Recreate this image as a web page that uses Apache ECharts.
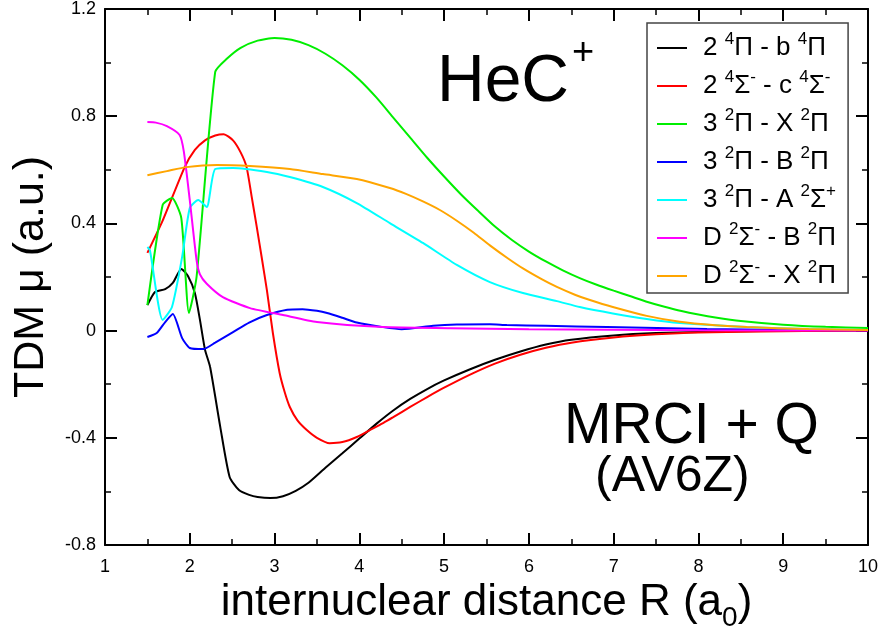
<!DOCTYPE html>
<html>
<head>
<meta charset="utf-8">
<script src="https://cdn.jsdelivr.net/npm/echarts@6/dist/echarts.min.js"></script>
<style>
  html, body { margin: 0; padding: 0; background: #fff; }
  #tdm { width: 881px; height: 627px; }
</style>
</head>
<body>
<div id="tdm"></div>
<script>
// R grid (a0) and TDM values (a.u.), one pair per curve
const rBlack = [1.5, 1.59, 1.71, 1.8, 1.9, 1.98, 2.06, 2.12, 2.18, 2.24, 2.36, 2.47, 2.58, 2.7, 2.8, 2.95, 3.1, 3.25, 3.4, 3.6, 3.8, 4.0, 4.2, 4.4, 4.6, 4.8, 5.0, 5.3, 5.6, 5.9, 6.2, 6.5, 7.0, 7.5, 8.0, 9.0, 10];
const tdmBlack = [0.095, 0.144, 0.155, 0.178, 0.23, 0.203, 0.14, 0.04, -0.072, -0.136, -0.36, -0.546, -0.595, -0.613, -0.621, -0.625, -0.618, -0.598, -0.568, -0.512, -0.458, -0.403, -0.348, -0.298, -0.255, -0.218, -0.186, -0.145, -0.109, -0.078, -0.052, -0.034, -0.018, -0.009, -0.005, -0.001, 0];

const rRed = [1.5, 1.68, 1.94, 2.06, 2.18, 2.3, 2.4, 2.51, 2.6, 2.67, 2.73, 2.79, 2.85, 2.91, 2.98, 3.06, 3.12, 3.18, 3.27, 3.38, 3.5, 3.65, 3.8, 3.97, 4.12, 4.28, 4.4, 4.6, 4.8, 5.0, 5.3, 5.6, 5.9, 6.2, 6.5, 7.0, 7.5, 8.0, 9.0, 10];
const tdmRed = [0.29, 0.41, 0.61, 0.674, 0.71, 0.728, 0.733, 0.71, 0.665, 0.61, 0.5, 0.387, 0.27, 0.15, -0.009, -0.158, -0.23, -0.285, -0.335, -0.371, -0.4, -0.42, -0.416, -0.397, -0.372, -0.345, -0.323, -0.285, -0.248, -0.213, -0.165, -0.123, -0.09, -0.064, -0.045, -0.026, -0.014, -0.007, -0.002, 0];

const rGreen = [1.5, 1.68, 1.79, 1.9, 1.99, 2.08, 2.3, 2.44, 2.6, 2.8, 3.0, 3.2, 3.4, 3.6, 3.8, 4.0, 4.2, 4.4, 4.6, 4.8, 5.0, 5.2, 5.4, 5.6, 5.8, 6.0, 6.2, 6.4, 6.6, 6.8, 7.0, 7.2, 7.4, 7.6, 7.8, 8.0, 8.2, 8.5, 9.0, 9.5, 10];
const tdmGreen = [0.095, 0.469, 0.495, 0.42, 0.066, 0.2, 0.965, 1.015, 1.055, 1.082, 1.092, 1.085, 1.065, 1.033, 0.99, 0.936, 0.87, 0.795, 0.72, 0.645, 0.575, 0.508, 0.447, 0.388, 0.338, 0.295, 0.258, 0.225, 0.196, 0.171, 0.149, 0.128, 0.107, 0.089, 0.073, 0.06, 0.049, 0.036, 0.022, 0.014, 0.01];

const rBlue = [1.5, 1.61, 1.71, 1.8, 1.91, 2.0, 2.16, 2.3, 2.51, 2.7, 2.91, 3.15, 3.33, 3.5, 3.62, 3.8, 3.97, 4.28, 4.5, 4.87, 5.15, 5.54, 5.74, 6.2, 6.92, 8.1, 9.0, 10];
const tdmBlue = [-0.024, -0.009, 0.032, 0.062, -0.028, -0.065, -0.069, -0.045, -0.006, 0.03, 0.058, 0.078, 0.08, 0.074, 0.066, 0.048, 0.03, 0.013, 0.005, 0.018, 0.023, 0.024, 0.021, 0.018, 0.013, 0.006, 0.003, 0.001];

const rCyan = [1.5, 1.53, 1.68, 1.79, 1.91, 2.0, 2.1, 2.2, 2.3, 2.51, 2.91, 3.18, 3.57, 3.97, 4.36, 4.75, 5.15, 5.54, 5.93, 6.33, 6.6, 6.99, 7.39, 7.78, 8.57, 9.3, 10];
const tdmCyan = [0.312, 0.3, 0.04, 0.088, 0.275, 0.457, 0.487, 0.461, 0.603, 0.607, 0.592, 0.573, 0.536, 0.476, 0.401, 0.327, 0.245, 0.181, 0.14, 0.11, 0.088, 0.064, 0.043, 0.028, 0.013, 0.006, 0.002];

const rMagenta = [1.5, 1.6, 1.73, 1.88, 1.93, 2.0, 2.08, 2.12, 2.2, 2.39, 2.71, 3.1, 3.5, 4.28, 5.07, 6.0, 7.0, 8.0, 10];
const tdmMagenta = [0.778, 0.776, 0.763, 0.73, 0.668, 0.487, 0.263, 0.21, 0.175, 0.125, 0.084, 0.058, 0.032, 0.013, 0.009, 0.005, 0.003, 0.001, 0];

const rOrange = [1.5, 1.73, 1.96, 2.32, 2.71, 3.18, 3.57, 3.97, 4.36, 4.55, 4.75, 4.95, 5.15, 5.35, 5.54, 5.75, 5.93, 6.15, 6.33, 6.55, 6.72, 6.99, 7.39, 7.78, 8.2, 8.57, 9.3, 10];
const tdmOrange = [0.58, 0.595, 0.61, 0.618, 0.614, 0.603, 0.584, 0.566, 0.532, 0.51, 0.482, 0.45, 0.41, 0.365, 0.318, 0.27, 0.232, 0.192, 0.163, 0.133, 0.114, 0.088, 0.055, 0.033, 0.02, 0.013, 0.006, 0.002];

const seriesNames = ['2 4Pi - b 4Pi', '2 4Sigma- - c 4Sigma-', '3 2Pi - X 2Pi', '3 2Pi - B 2Pi', '3 2Pi - A 2Sigma+', 'D 2Sigma- - B 2Pi', 'D 2Sigma- - X 2Pi'];
const legendLabels = [
  '{f|2 }{s|4}{t|Π - b }{s|4}{t|Π}',
  '{f|2 }{s|4}{t|Σ}{s|-}{t| - c }{s|4}{t|Σ}{s|-}',
  '{f|3 }{s|2}{t|Π - X }{s|2}{t|Π}',
  '{f|3 }{s|2}{t|Π - B }{s|2}{t|Π}',
  '{f|3 }{s|2}{t|Π - A }{s|2}{t|Σ}{s|+}',
  '{f|D }{s|2}{t|Σ}{s|-}{t| - B }{s|2}{t|Π}',
  '{f|D }{s|2}{t|Σ}{s|-}{t| - X }{s|2}{t|Π}'
];
const colors = ['#000000', '#ff0000', '#00ee00', '#0000ff', '#00ffff', '#ff00ff', '#ffa500'];
const curvesR = [rBlack, rRed, rGreen, rBlue, rCyan, rMagenta, rOrange];
const curvesTdm = [tdmBlack, tdmRed, tdmGreen, tdmBlue, tdmCyan, tdmMagenta, tdmOrange];

const FONT = 'Liberation Sans, Arial, Helvetica, sans-serif';

var chartDom = document.getElementById('tdm');
var myChart = echarts.init(chartDom);
var option;

const labelOf = {};
seriesNames.forEach((n, i) => { labelOf[n] = legendLabels[i]; });

const tickCommon = {
  axisLine: { show: true, onZero: false, lineStyle: { color: '#000', width: 2 } },
  axisTick: { show: true, inside: true, length: 12, lineStyle: { color: '#000', width: 2 } },
  minorTick: { show: true, splitNumber: 2, length: 6, lineStyle: { color: '#000', width: 1.5 } },
  splitLine: { show: false }
};

option = {
  animation: false,
  backgroundColor: '#fff',
  color: colors,
  grid: { left: 105, right: 13, top: 9, bottom: 82, containLabel: false, outerBoundsMode: 'none' },
  legend: {
    orient: 'vertical',
    left: 647,
    top: 23,
    padding: [8, 12, 4, 10],
    itemGap: 8,
    itemWidth: 30,
    itemHeight: 2,
    icon: 'rect',
    backgroundColor: '#fff',
    borderColor: '#444',
    borderWidth: 1.5,
    borderRadius: 0,
    data: seriesNames,
    formatter: name => labelOf[name],
    textStyle: {
      color: '#000',
      fontFamily: FONT,
      rich: {
        f: { fontSize: 26, lineHeight: 34, padding: [0, 0, 0, 11], fontFamily: FONT, color: '#000' },
        t: { fontSize: 26, lineHeight: 34, fontFamily: FONT, color: '#000' },
        s: { fontSize: 17, lineHeight: 8, verticalAlign: 'top', fontFamily: FONT, color: '#000' }
      }
    }
  },
  xAxis: [
    Object.assign({
      type: 'value', min: 1, max: 10, interval: 1, position: 'bottom',
      name: '{n|internuclear distance R (a}{b|0}{n|)}',
      nameLocation: 'middle',
      nameGap: 15,
      nameTextStyle: {
        rich: {
          n: { fontSize: 44, lineHeight: 46, fontFamily: FONT, color: '#000' },
          b: { fontSize: 28, lineHeight: 58, verticalAlign: 'bottom', fontFamily: FONT, color: '#000' }
        }
      },
      axisLabel: { show: true, fontSize: 18, fontFamily: FONT, color: '#000', margin: 13 }
    }, tickCommon),
    Object.assign({
      type: 'value', min: 1, max: 10, interval: 1, position: 'top',
      axisLabel: { show: false }
    }, tickCommon)
  ],
  yAxis: [
    Object.assign({
      type: 'value', min: -0.8, max: 1.2, interval: 0.4, position: 'left',
      name: 'TDM μ (a.u.)',
      nameLocation: 'middle',
      nameGap: 52,
      nameTextStyle: { fontSize: 43, fontFamily: FONT, color: '#000' },
      axisLabel: { show: true, fontSize: 18, fontFamily: FONT, color: '#000', margin: 9 }
    }, tickCommon),
    Object.assign({
      type: 'value', min: -0.8, max: 1.2, interval: 0.4, position: 'right',
      axisLabel: { show: false }
    }, tickCommon)
  ],
  graphic: [
    { type: 'text', left: 437, top: 50, style: { text: 'HeC', font: '66px ' + FONT, fill: '#000' } },
    { type: 'text', left: 572, top: 35, style: { text: '+', font: '38px ' + FONT, fill: '#000' } },
    { type: 'text', left: 564, top: 399, style: { text: 'MRCI + Q', font: '57px ' + FONT, fill: '#000' } },
    { type: 'text', left: 595, top: 452, style: { text: '(AV6Z)', font: '50px ' + FONT, fill: '#000' } }
  ],
  series: seriesNames.map((name, i) => ({
    name: name,
    type: 'line',
    xAxisIndex: 0,
    yAxisIndex: 0,
    showSymbol: false,
    symbol: 'none',
    smooth: 0.2,
    clip: true,
    lineStyle: { width: 2, color: colors[i] },
    itemStyle: { color: colors[i] },
    data: curvesR[i].map((r, k) => [r, curvesTdm[i][k]])
  }))
};

option && myChart.setOption(option);
</script>
</body>
</html>
